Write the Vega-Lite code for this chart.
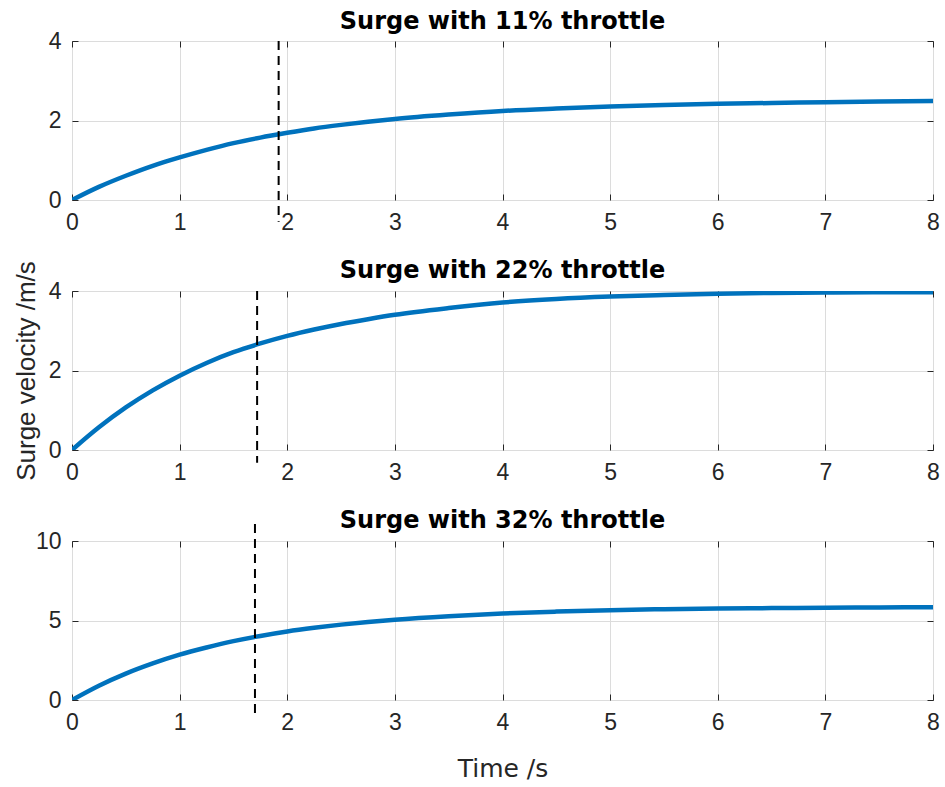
{
  "$schema": "https://vega.github.io/schema/vega-lite/v6.json",
  "padding": {"left": 12, "top": 9, "right": 5, "bottom": 5},
  "background": "white",
  "spacing": 91,
  "bounds": "flush",
  "config": {
    "font": "Liberation Sans",
    "view": {"stroke": "#262626", "strokeWidth": 1},
    "axis": {
      "labelFont": "Liberation Sans", "labelFontSize": 23, "labelColor": "#262626", "labelFlush": false,
      "titleFont": "Liberation Sans", "titleFontSize": 26, "titleColor": "#262626", "titleFontWeight": "normal",
      "domain": false, "gridColor": "#dcdcdc", "gridWidth": 1,
      "tickColor": "#262626", "tickSize": -6, "tickWidth": 1, "format": "d"
    },
    "title": {"font": "DejaVu Sans", "fontSize": 24, "fontWeight": "bold", "color": "black", "baseline": "alphabetic", "offset": 13}
  },
  "datasets": {
    "c1": [
      {"t": 0, "v": 0}, {"t": 0.25, "v": 0.33}, {"t": 0.5, "v": 0.61}, {"t": 0.75, "v": 0.86},
      {"t": 1, "v": 1.07}, {"t": 1.25, "v": 1.26}, {"t": 1.5, "v": 1.43}, {"t": 1.75, "v": 1.57},
      {"t": 2, "v": 1.69}, {"t": 2.25, "v": 1.8}, {"t": 2.5, "v": 1.89}, {"t": 2.75, "v": 1.97},
      {"t": 3, "v": 2.04}, {"t": 3.5, "v": 2.15}, {"t": 4, "v": 2.24}, {"t": 4.5, "v": 2.3},
      {"t": 5, "v": 2.35}, {"t": 5.5, "v": 2.39}, {"t": 6, "v": 2.42}, {"t": 6.5, "v": 2.44},
      {"t": 7, "v": 2.46}, {"t": 7.5, "v": 2.48}, {"t": 8, "v": 2.49}
    ],
    "c2": [
      {"t": 0, "v": 0}, {"t": 0.25, "v": 0.57}, {"t": 0.5, "v": 1.07}, {"t": 0.75, "v": 1.5},
      {"t": 1, "v": 1.87}, {"t": 1.25, "v": 2.19}, {"t": 1.5, "v": 2.46}, {"t": 1.75, "v": 2.68},
      {"t": 2, "v": 2.87}, {"t": 2.25, "v": 3.03}, {"t": 2.5, "v": 3.17}, {"t": 2.75, "v": 3.29},
      {"t": 3, "v": 3.4}, {"t": 3.5, "v": 3.57}, {"t": 4, "v": 3.71}, {"t": 4.5, "v": 3.8},
      {"t": 5, "v": 3.86}, {"t": 5.5, "v": 3.9}, {"t": 6, "v": 3.93}, {"t": 6.5, "v": 3.95},
      {"t": 7, "v": 3.96}, {"t": 7.5, "v": 3.97}, {"t": 8, "v": 3.97}
    ],
    "c3": [
      {"t": 0, "v": 0}, {"t": 0.25, "v": 0.9}, {"t": 0.5, "v": 1.66}, {"t": 0.75, "v": 2.3},
      {"t": 1, "v": 2.85}, {"t": 1.25, "v": 3.3}, {"t": 1.5, "v": 3.7}, {"t": 1.75, "v": 4.03},
      {"t": 2, "v": 4.31}, {"t": 2.25, "v": 4.54}, {"t": 2.5, "v": 4.74}, {"t": 2.75, "v": 4.91},
      {"t": 3, "v": 5.05}, {"t": 3.5, "v": 5.27}, {"t": 4, "v": 5.44}, {"t": 4.5, "v": 5.56},
      {"t": 5, "v": 5.65}, {"t": 5.5, "v": 5.71}, {"t": 6, "v": 5.75}, {"t": 6.5, "v": 5.78},
      {"t": 7, "v": 5.8}, {"t": 7.5, "v": 5.82}, {"t": 8, "v": 5.83}
    ],
    "r1": [{"t": 1.92, "lo": -0.55, "hi": 4}],
    "r2": [{"t": 1.72, "lo": -0.32, "hi": 4}],
    "r3": [{"t": 1.7, "lo": -1.15, "hi": 11.07}]
  },
  "vconcat": [
    {
      "width": 861, "height": 159,
      "title": {"text": "Surge with 11% throttle", "dy": 17},
      "resolve": {"axis": {"x": "independent", "y": "independent"}},
      "layer": [
        {
          "data": {"name": "c1"},
          "mark": {"type": "line", "color": "#0072BD", "strokeWidth": 4.5, "interpolate": "monotone", "clip": true},
          "encoding": {
            "x": {"field": "t", "type": "quantitative", "scale": {"domain": [0, 8], "nice": false}, "axis": {"orient": "bottom", "title": null, "values": [0,1,2,3,4,5,6,7,8], "labelPadding": 17}},
            "y": {"field": "v", "type": "quantitative", "scale": {"domain": [0, 4], "nice": false}, "axis": {"orient": "left", "title": null, "values": [0, 2, 4], "labelPadding": 17}}
          }
        },
        {
          "data": {"name": "r1"},
          "mark": {"type": "rule", "color": "black", "strokeWidth": 2, "strokeDash": [9, 6]},
          "encoding": {
            "x": {"field": "t", "type": "quantitative", "axis": {"orient": "top", "title": null, "labels": false, "grid": false, "values": [0,1,2,3,4,5,6,7,8]}},
            "y": {"field": "hi", "type": "quantitative", "axis": {"orient": "right", "title": null, "labels": false, "grid": false, "values": [0, 2, 4]}},
            "y2": {"field": "lo"}
          }
        }
      ]
    },
    {
      "width": 861, "height": 159,
      "title": {"text": "Surge with 22% throttle", "dy": 35},
      "resolve": {"axis": {"x": "independent", "y": "independent"}},
      "layer": [
        {
          "data": {"name": "c2"},
          "mark": {"type": "line", "color": "#0072BD", "strokeWidth": 4.5, "interpolate": "monotone", "clip": true},
          "encoding": {
            "x": {"field": "t", "type": "quantitative", "scale": {"domain": [0, 8], "nice": false}, "axis": {"orient": "bottom", "title": null, "values": [0,1,2,3,4,5,6,7,8], "labelPadding": 17}},
            "y": {"field": "v", "type": "quantitative", "scale": {"domain": [0, 4], "nice": false}, "axis": {"orient": "left", "title": "Surge velocity /m/s", "values": [0, 2, 4], "labelPadding": 17, "titleX": -46, "titleY": 79.5, "titleAlign": "center", "titleBaseline": "middle", "titleAngle": -90}}
          }
        },
        {
          "data": {"name": "r2"},
          "mark": {"type": "rule", "color": "black", "strokeWidth": 2, "strokeDash": [9, 6]},
          "encoding": {
            "x": {"field": "t", "type": "quantitative", "axis": {"orient": "top", "title": null, "labels": false, "grid": false, "values": [0,1,2,3,4,5,6,7,8]}},
            "y": {"field": "hi", "type": "quantitative", "axis": {"orient": "right", "title": null, "labels": false, "grid": false, "values": [0, 2, 4]}},
            "y2": {"field": "lo"}
          }
        }
      ]
    },
    {
      "width": 861, "height": 159,
      "title": {"text": "Surge with 32% throttle", "dy": 23},
      "resolve": {"axis": {"x": "independent", "y": "independent"}},
      "layer": [
        {
          "data": {"name": "c3"},
          "mark": {"type": "line", "color": "#0072BD", "strokeWidth": 4.5, "interpolate": "monotone", "clip": true},
          "encoding": {
            "x": {"field": "t", "type": "quantitative", "scale": {"domain": [0, 8], "nice": false}, "axis": {"orient": "bottom", "title": "Time /s", "values": [0,1,2,3,4,5,6,7,8], "labelPadding": 17, "titleX": 430.5, "titleY": 68, "titleAlign": "center", "titleBaseline": "middle", "titleFont": "DejaVu Sans", "titleFontSize": 25}},
            "y": {"field": "v", "type": "quantitative", "scale": {"domain": [0, 10], "nice": false}, "axis": {"orient": "left", "title": null, "values": [0, 5, 10], "labelPadding": 17}}
          }
        },
        {
          "data": {"name": "r3"},
          "mark": {"type": "rule", "color": "black", "strokeWidth": 2, "strokeDash": [9, 6]},
          "encoding": {
            "x": {"field": "t", "type": "quantitative", "axis": {"orient": "top", "title": null, "labels": false, "grid": false, "values": [0,1,2,3,4,5,6,7,8]}},
            "y": {"field": "hi", "type": "quantitative", "axis": {"orient": "right", "title": null, "labels": false, "grid": false, "values": [0, 5, 10]}},
            "y2": {"field": "lo"}
          }
        }
      ]
    }
  ]
}
